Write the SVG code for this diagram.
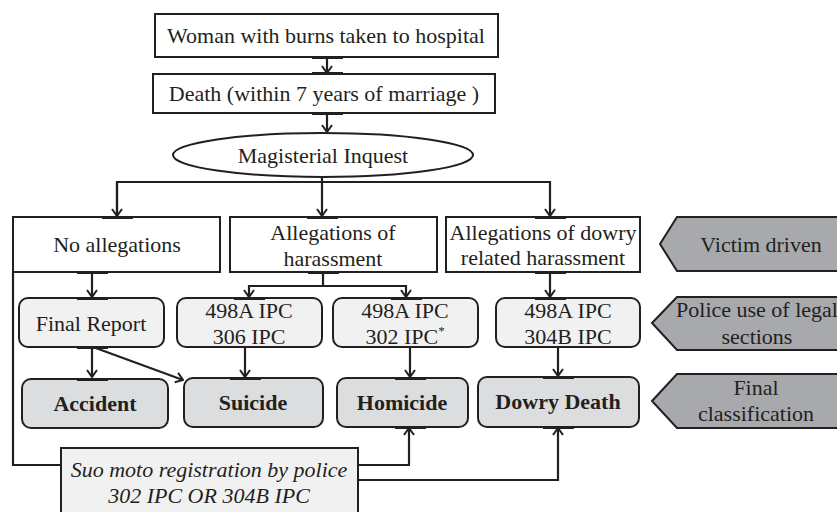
<svg xmlns="http://www.w3.org/2000/svg" width="837" height="512" viewBox="0 0 837 512" font-family="'Liberation Serif', 'Times New Roman', Times, serif">
<style>
text{font-family:'Liberation Serif','Times New Roman',Times,serif;font-size:22px;fill:#231f20;text-anchor:middle}
.b{font-weight:bold}
.i{font-style:italic}
.box{fill:#fff;stroke:#231f20;stroke-width:2}
.rb{fill:#f1f1f2;stroke:#231f20;stroke-width:2}
.fb{fill:#dcdddf;stroke:#231f20;stroke-width:2}
.pent{fill:#a7a9ac;stroke:#231f20;stroke-width:2}
.c{fill:none;stroke:#231f20;stroke-width:2.2}
.tab{fill:#231f20}
</style>
<defs>
<marker id="ar" viewBox="0 0 12 12" refX="11" refY="6" markerWidth="12" markerHeight="12" markerUnits="userSpaceOnUse" orient="auto">
<path d="M4,1 L11,6 L4,11" fill="none" stroke="#231f20" stroke-width="2"/>
</marker>
</defs>

<g id="connectors">
<path class="c" d="M327,57 V73" marker-end="url(#ar)"/>
<path class="c" d="M327,113 V132" marker-end="url(#ar)"/>
<path class="c" d="M117,216 V182 H550 V216" marker-end="url(#ar)"/>
<path class="c" d="M117,182 V216" marker-end="url(#ar)"/>
<path class="c" d="M322,177 V216" marker-end="url(#ar)"/>
<path class="c" d="M92,272 V297" marker-end="url(#ar)"/>
<path class="c" d="M323,272 V286 H249 V297" marker-end="url(#ar)"/>
<path class="c" d="M323,286 H406 V297" marker-end="url(#ar)"/>
<path class="c" d="M550,272 V297" marker-end="url(#ar)"/>
<path class="c" d="M92,347 V377" marker-end="url(#ar)"/>
<path class="c" d="M93,347 L183,380" marker-end="url(#ar)"/>
<path class="c" d="M245,347 V377" marker-end="url(#ar)"/>
<path class="c" d="M410,347 V377" marker-end="url(#ar)"/>
<path class="c" d="M558,347 V376" marker-end="url(#ar)"/>
<path class="c" d="M13,272 V465 H409 V428" marker-end="url(#ar)"/>
<path class="c" d="M358,480 H558 V428" marker-end="url(#ar)"/>
</g>

<g id="n-hospital">
<rect class="box" x="155" y="14" width="343" height="43"/>
<text x="326" y="43">Woman with burns taken to hospital</text>
</g>
<g id="n-death">
<rect class="box" x="153" y="74" width="342" height="39"/>
<text x="324" y="101">Death (within 7 years of marriage )</text>
</g>
<g id="n-inquest">
<ellipse class="box" cx="323" cy="155" rx="150" ry="22"/>
<text x="323" y="163">Magisterial Inquest</text>
</g>
<g id="n-noalleg">
<rect class="box" x="13" y="217" width="207" height="55"/>
<text x="117" y="252">No allegations</text>
</g>
<g id="n-harass">
<rect class="box" x="230" y="217" width="207" height="55"/>
<text x="333" y="240">Allegations of</text>
<text x="333" y="266">harassment</text>
</g>
<g id="n-dowry">
<rect class="box" x="446" y="217" width="194" height="55"/>
<text x="543" y="240">Allegations of dowry</text>
<text x="543" y="265">related harassment</text>
</g>
<g id="n-finalreport">
<rect class="rb" x="19" y="298" width="145" height="49" rx="9"/>
<text x="91" y="331">Final Report</text>
</g>
<g id="n-306">
<rect class="rb" x="177" y="298" width="145" height="49" rx="9"/>
<text x="249" y="318">498A IPC</text>
<text x="249" y="344">306 IPC</text>
</g>
<g id="n-302">
<rect class="rb" x="333" y="298" width="145" height="49" rx="9"/>
<text x="405" y="318">498A IPC</text>
<text x="405" y="344">302 IPC<tspan font-size="13" dy="-9">*</tspan></text>
</g>
<g id="n-304b">
<rect class="rb" x="496" y="298" width="144" height="49" rx="9"/>
<text x="568" y="318">498A IPC</text>
<text x="568" y="344">304B IPC</text>
</g>
<g id="n-accident">
<rect class="fb" x="22" y="379" width="146" height="49" rx="9"/>
<text class="b" x="95" y="411">Accident</text>
</g>
<g id="n-suicide">
<rect class="fb" x="184" y="378" width="139" height="49" rx="9"/>
<text class="b" x="253" y="410">Suicide</text>
</g>
<g id="n-homicide">
<rect class="fb" x="337" y="378" width="131" height="49" rx="9"/>
<text class="b" x="402" y="410">Homicide</text>
</g>
<g id="n-dowrydeath">
<rect class="fb" x="478" y="377" width="161" height="50" rx="9"/>
<text class="b" x="558" y="409">Dowry Death</text>
</g>
<g id="n-suomoto">
<rect class="rb" x="61" y="448" width="297" height="70"/>
<text class="i" x="209" y="477">Suo moto registration by police</text>
<text class="i" x="209" y="503">302 IPC OR 304B IPC</text>
</g>
<g id="n-victim">
<polygon class="pent" points="660,244 677,217 845,217 845,271 677,271"/>
<text x="761" y="252">Victim driven</text>
</g>
<g id="n-police">
<polygon class="pent" points="652,323 677,297 845,297 845,350 677,350"/>
<text x="757" y="317">Police use of legal</text>
<text x="757" y="344">sections</text>
</g>
<g id="n-final">
<polygon class="pent" points="652,401 677,374 845,374 845,428 677,428"/>
<text x="756" y="395">Final</text>
<text x="756" y="421">classification</text>
</g>

<g id="tabs">
<rect class="tab" x="312" y="56" width="31" height="3"/>
<rect class="tab" x="312" y="72" width="31" height="3"/>
<rect class="tab" x="312" y="112" width="31" height="3"/>
<rect class="tab" x="102" y="216" width="31" height="3"/>
<rect class="tab" x="307" y="216" width="31" height="3"/>
<rect class="tab" x="535" y="216" width="31" height="3"/>
<rect class="tab" x="77" y="271" width="31" height="3"/>
<rect class="tab" x="308" y="271" width="31" height="3"/>
<rect class="tab" x="535" y="271" width="31" height="3"/>
<rect class="tab" x="77" y="297" width="31" height="3"/>
<rect class="tab" x="234" y="297" width="31" height="3"/>
<rect class="tab" x="391" y="297" width="31" height="3"/>
<rect class="tab" x="535" y="297" width="31" height="3"/>
<rect class="tab" x="77" y="346" width="31" height="3"/>
<rect class="tab" x="230" y="377" width="31" height="3"/>
<rect class="tab" x="77" y="378" width="31" height="3"/>
<rect class="tab" x="395" y="377" width="31" height="3"/>
<rect class="tab" x="543" y="376" width="31" height="3"/>
<rect class="tab" x="395" y="426" width="31" height="3"/>
<rect class="tab" x="543" y="426" width="31" height="3"/>
</g>
</svg>
